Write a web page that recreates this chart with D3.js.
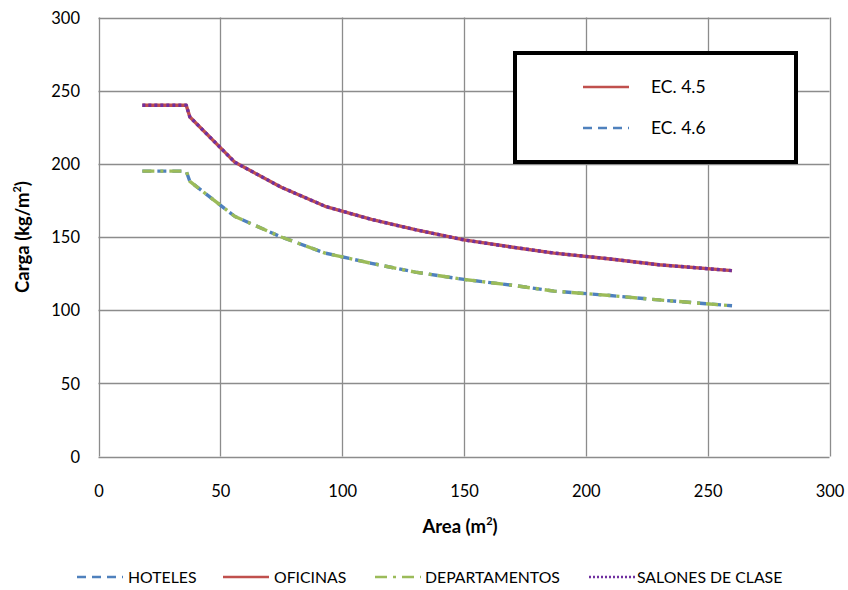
<!DOCTYPE html>
<html><head><meta charset="utf-8">
<script src="https://cdn.jsdelivr.net/npm/d3@7"></script>
<style>body{margin:0;background:#fff}svg{display:block;font-family:Lato,"Open Sans",sans-serif}</style>
</head><body>
<svg id="c" width="848" height="590"></svg>
<script>
// Data
const areas = [18, 36, 37.5, 56, 75, 93, 112, 130, 150, 170, 187, 210, 230, 260];
const ec45 = [240, 240, 232, 201, 184, 171, 162, 155, 148, 143, 139, 135, 131, 127];
const ec46 = [195, 195, 188, 164, 150, 139, 132, 126, 121, 117, 113, 110, 107, 103];
const xTicks = [0, 50, 100, 150, 200, 250, 300];
const yTicks = [0, 50, 100, 150, 200, 250, 300];
const seriesNames = ["HOTELES", "OFICINAS", "DEPARTAMENTOS", "SALONES DE CLASE"];
const seriesValues = [ec46, ec45, ec46, ec45];
const seriesColors = ["#4F81BD", "#C0504D", "#9BBB59", "#7030A0"];
const seriesDash = ["9,6", null, "12,6,3,6", "3,3"];
const boxNames = ["EC. 4.5", "EC. 4.6"];

const svg = d3.select("#c");
const L = 98.5, R = 829.5, T = 17.5, B = 456.5;
const x = d3.scaleLinear().domain([0, 300]).range([L, R]);
const y = d3.scaleLinear().domain([0, 300]).range([B, T]);

// gridlines
const g = svg.append("g");
g.selectAll(".vx").data(xTicks).join("line")
  .attr("x1", d => Math.round(x(d)) + 0.5).attr("x2", d => Math.round(x(d)) + 0.5)
  .attr("y1", T).attr("y2", B).attr("stroke", "#8c8c8c").attr("stroke-width", 1.3);
g.selectAll(".hy").data(yTicks).join("line")
  .attr("y1", d => Math.round(y(d)) + 0.5).attr("y2", d => Math.round(y(d)) + 0.5)
  .attr("x1", L).attr("x2", R).attr("stroke", "#8c8c8c").attr("stroke-width", 1.3);

// axes (labels only)
const xAxis = d3.axisBottom(x).tickValues(xTicks).tickSize(0).tickPadding(0);
const xg = svg.append("g").attr("transform", `translate(0,${B})`).call(xAxis);
xg.select(".domain").remove();
xg.selectAll("text").attr("dy", null).attr("y", 40).attr("font-size", 16.5).attr("fill", "#000").attr("font-family", "Lato");
const yAxis = d3.axisLeft(y).tickValues(yTicks).tickSize(0).tickPadding(0);
const yg = svg.append("g").attr("transform", `translate(80,0)`).call(yAxis);
yg.select(".domain").remove();
yg.selectAll("text").attr("dy", "0.35em").attr("font-size", 16.5).attr("fill", "#000").attr("font-family", "Lato");

// series
const line = d3.line().x((d, i) => x(areas[i])).y(d => y(d));
seriesValues.forEach((vals, k) => {
  svg.append("path").attr("d", line(vals)).attr("fill", "none")
    .attr("stroke", seriesColors[k]).attr("stroke-width", 3.4)
    .attr("stroke-dasharray", seriesDash[k]).attr("stroke-linejoin", "round");
});

// axis titles
const xt = svg.append("text").attr("x", 460).attr("y", 533).attr("text-anchor", "middle")
  .attr("font-weight", "bold").attr("font-size", 18.5);
xt.append("tspan").text("Area (m");
xt.append("tspan").text("2").attr("font-size", 11).attr("dy", -8);
xt.append("tspan").text(")").attr("dy", 8);
const yt = svg.append("text").attr("transform", "translate(29,237) rotate(-90)").attr("text-anchor", "middle")
  .attr("font-weight", "bold").attr("font-size", 18.5);
yt.append("tspan").text("Carga (kg/m");
yt.append("tspan").text("2").attr("font-size", 11).attr("dy", -8);
yt.append("tspan").text(")").attr("dy", 8);

// inner legend box
svg.append("rect").attr("x", 515).attr("y", 53).attr("width", 281).attr("height", 109)
  .attr("fill", "#fff").attr("stroke", "#000").attr("stroke-width", 4);
[["#C0504D", null, 87], ["#4F81BD", "9,6", 128]].forEach((s, i) => {
  svg.append("line").attr("x1", 583).attr("x2", 629).attr("y1", s[2]).attr("y2", s[2])
    .attr("stroke", s[0]).attr("stroke-width", 2.5).attr("stroke-dasharray", s[1]);
  svg.append("text").attr("x", 651).attr("y", s[2]).attr("dy", "0.35em").attr("font-size", 17.5).text(boxNames[i]);
});

// bottom legend
const legX = [[77, 128], [223, 274], [375, 425], [589, 637]];
seriesNames.forEach((n, k) => {
  svg.append("line").attr("x1", legX[k][0]).attr("x2", legX[k][0] + 46).attr("y1", 577).attr("y2", 577)
    .attr("stroke", seriesColors[k]).attr("stroke-width", 2.5).attr("stroke-dasharray", seriesDash[k] ? (k === 3 ? "2,2" : seriesDash[k]) : null);
  svg.append("text").attr("x", legX[k][1]).attr("y", 577).attr("dy", "0.35em").attr("font-size", 15.8).text(n);
});
</script>
</body></html>
